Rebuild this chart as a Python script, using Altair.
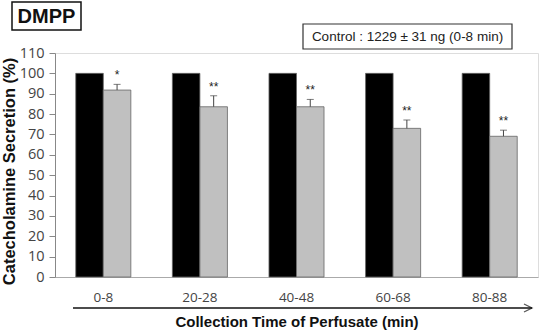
import altair as alt
import pandas as pd

groups = ["0-8", "20-28", "40-48", "60-68", "80-88"]
control = [100, 100, 100, 100, 100]
dmpp = [91.8, 83.6, 83.6, 73.0, 69.1]
dmpp_err = [2.8, 5.4, 3.6, 4.1, 3.0]
stars = ["*", "**", "**", "**", "**"]
series = ["Control", "DMPP"]
yticks = [0, 10, 20, 30, 40, 50, 60, 70, 80, 90, 100, 110]

rows = []
for g, c, d, e, s in zip(groups, control, dmpp, dmpp_err, stars):
    rows.append({"group": g, "series": "Control", "value": c, "err": 0, "top": c, "star": ""})
    rows.append({"group": g, "series": "DMPP", "value": d, "err": e, "top": d + e, "star": s})
df = pd.DataFrame(rows)
dd = df[df.series == "DMPP"]

FONT = "Arial, Liberation Sans, sans-serif"
TFONT = "Open Sans, sans-serif"

xaxis = alt.Axis(title="Collection Time of Perfusate (min)", labelAngle=0)
yaxis = alt.Axis(title="Catecholamine Secretion (%)", values=yticks, tickCount=12,
                 labelOverlap=False)
xscale = alt.Scale(paddingInner=0.43, paddingOuter=0.215)
xenc = alt.X("group:N", sort=groups, scale=xscale, axis=xaxis)
xoff = alt.XOffset("series:N", sort=series, scale=alt.Scale(paddingInner=0, paddingOuter=0))
yscale = alt.Scale(domain=[0, 110], nice=False, zero=True)

bars = alt.Chart(df).mark_bar(stroke="#666", strokeWidth=0.8).encode(
    x=xenc,
    xOffset=xoff,
    y=alt.Y("value:Q", scale=yscale, axis=yaxis),
    color=alt.Color("series:N", sort=series,
                    scale=alt.Scale(domain=series, range=["#000000", "#c0c0c0"]), legend=None),
)

rule = alt.Chart(dd).mark_rule(color="#444", strokeWidth=1).encode(
    x=xenc, xOffset=xoff, y=alt.Y("value:Q", scale=yscale, axis=yaxis), y2="top:Q")
cap = alt.Chart(dd).mark_tick(color="#444", thickness=1, size=7, orient="horizontal").encode(
    x=xenc, xOffset=xoff, y=alt.Y("top:Q", scale=yscale, axis=yaxis))
star = alt.Chart(dd).mark_text(font=FONT, fontSize=12, baseline="bottom", dy=-2, color="#222").encode(
    x=xenc, xOffset=xoff, y=alt.Y("top:Q", scale=yscale, axis=yaxis), text="star:N")

arrow = alt.Chart(df.head(1)).mark_rule(color="#111", strokeWidth=1.3).encode(
    x=alt.value(18), x2=alt.value(477), y=alt.value(255))
head = alt.Chart(df.head(1)).mark_point(shape="M-1,-0.5L0,0L-1,0.5", filled=False,
                                         stroke="#111", strokeWidth=1.3, size=256).encode(
    x=alt.value(477), y=alt.value(255))

box1 = alt.Chart(df.head(1)).mark_rect(fill="white", stroke="#111", strokeWidth=1.5).encode(
    x=alt.value(-43), x2=alt.value(26), y=alt.value(-51), y2=alt.value(-23))
txt1 = alt.Chart(df.head(1)).mark_text(text="DMPP", font=FONT, fontSize=20, fontWeight="bold",
                                       color="#111", baseline="middle").encode(
    x=alt.value(-8.5), y=alt.value(-36.5))
box2 = alt.Chart(df.head(1)).mark_rect(fill="white", stroke="#333", strokeWidth=1.2).encode(
    x=alt.value(248), x2=alt.value(457), y=alt.value(-29), y2=alt.value(-4))
txt2 = alt.Chart(df.head(1)).mark_text(text="Control : 1229 \u00b1 31 ng (0-8 min)", font=FONT,
                                       fontSize=13.5, color="#222", baseline="middle").encode(
    x=alt.value(352.5), y=alt.value(-16.5))

chart = alt.layer(bars, rule, cap, star, arrow, head, box1, txt1, box2, txt2).properties(
    width=483, height=224,
    autosize=alt.AutoSizeParams(type="none"),
    padding={"left": 55, "top": 53, "right": 1, "bottom": 56},
).configure_view(stroke=None).configure(background="white").configure_axisX(
    labelFont=TFONT, labelFontSize=13.5, labelColor="#444",
    labelPadding=13, ticks=False, domainColor="#aaa",
    domainWidth=1, titleFont=FONT, titleFontSize=15,
    titleFontWeight="bold", titleColor="#111", titleY=44,
    titleBaseline="middle", grid=False,
).configure_axisY(
    grid=False, labelFont=TFONT, labelFontSize=14.5, labelColor="#444",
    labelPadding=5, tickSize=6, tickColor="#888", domainColor="#888",
    titleFont=FONT, titleFontSize=16.5, titleFontWeight="bold",
    titleColor="#111", titleX=-46, titleY=118, titleAngle=270,
    titleAlign="center", titleBaseline="middle",
)

chart.save("out.html", embed_options={"renderer": "svg", "actions": False})
